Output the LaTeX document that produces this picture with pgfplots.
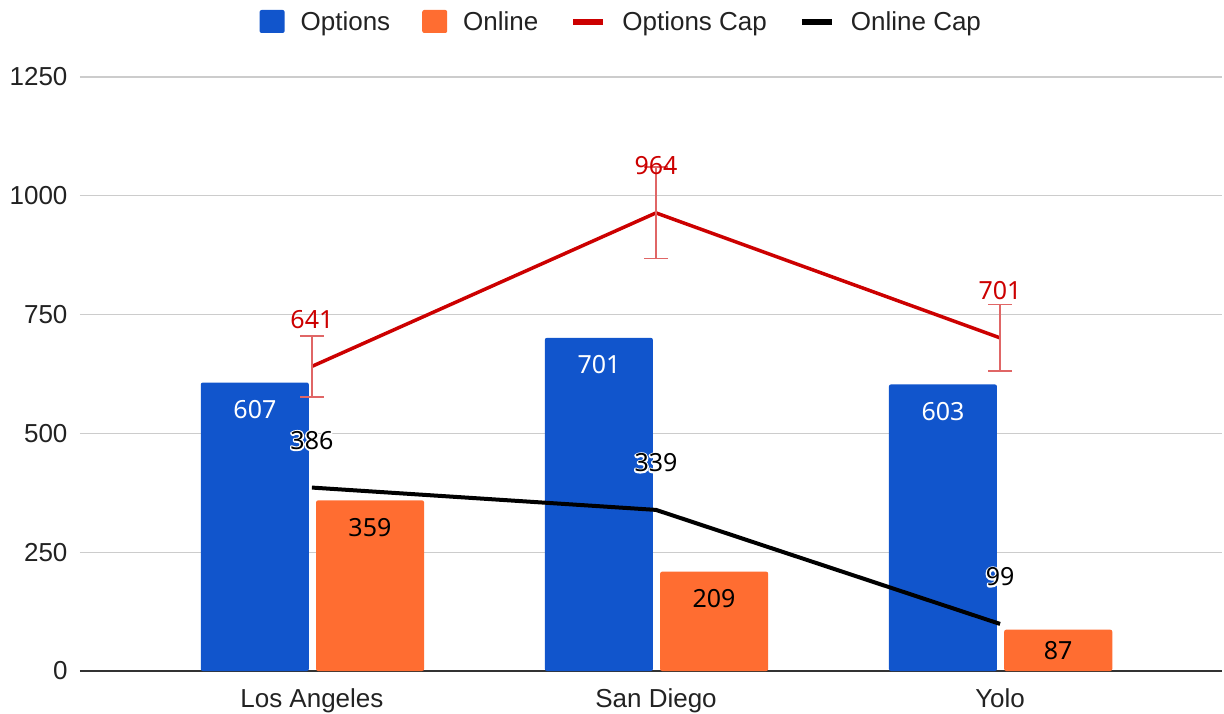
\documentclass[border=0pt]{standalone}
\usepackage{pgfplots}
\pgfplotsset{compat=1.18}
\usepackage{fontspec}
\setmainfont{Liberation Sans}
\newfontfamily\labelfont{Noto Sans}
\newfontfamily\halofont[FakeBold=12]{Noto Sans}
\definecolor{cBlue}{HTML}{1155CC}
\definecolor{cOrange}{HTML}{FF6D31}
\definecolor{cRed}{HTML}{CC0000}
\definecolor{cErr}{HTML}{E06666}
\definecolor{cGrid}{HTML}{CCCCCC}
\definecolor{cAxis}{HTML}{333333}
\definecolor{cText}{HTML}{222222}
\begin{document}
\begin{tikzpicture}[x=1pt,y=1pt]
\path[use as bounding box] (0,0) rectangle (1224,713);
\begin{axis}[
  at={(80pt,42pt)}, anchor=south west,
  scale only axis, width=1142pt, height=594pt,
  xmin=-0.674, xmax=2.645, ymin=0, ymax=1250,
  xtick={0,1,2}, xticklabels={Los Angeles, San Diego, Yolo},
  ytick={0,250,...,1250},
  ymajorgrids, grid style={cGrid, line width=1.3pt},
  axis x line=bottom, axis y line=left,
  x axis line style={-, cAxis, line width=1.8pt},
  y axis line style={draw=none},
  major tick length=0pt,
  tick label style={font=\fontsize{26}{30}\selectfont, text=cText},
  yticklabel style={xshift=-9pt},
  xticklabel style={yshift=-14pt},
  /pgf/number format/assume math mode=true,
  /pgf/number format/1000 sep={},
  legend columns=4,
  legend style={at={(0.474,1.0926)}, anchor=center, draw=none, fill=none,
    font=\fontsize{26}{30}\selectfont, text=cText,
    /tikz/every odd column/.append style={column sep=14pt},
    /tikz/every even column/.append style={column sep=30pt}},
]
\addplot[ybar, bar width=0.314, bar shift=-0.166, fill=cBlue, draw=none,
  rounded corners=2pt,
  nodes near coords,
  every node near coord/.append style={font=\labelfont\fontsize{25}{28}\selectfont, text=white, anchor=center, xshift=-57pt, yshift=-27pt, rounded corners=0pt},
  legend image code/.code={\fill[cBlue] (0pt,-11pt) rectangle (25pt,12pt);}
] coordinates {(0,607) (1,701) (2,603)};
\addlegendentry{Options}
\addplot[ybar, bar width=0.314, bar shift=0.169, fill=cOrange, draw=none,
  rounded corners=2pt,
  visualization depends on={rawy \as \rawy},
  nodes near coords,
  every node near coord/.append style={font=\labelfont\fontsize{25}{28}\selectfont, text=black, anchor=center, xshift=58pt, yshift={max(-27,-0.2376*\rawy)}, rounded corners=0pt},
  legend image code/.code={\fill[cOrange] (0pt,-11pt) rectangle (25pt,12pt);}
] coordinates {(0,359) (1,209) (2,87)};
\addlegendentry{Online}
\addplot[cRed, line width=3.5pt, mark=none, line join=round,
  nodes near coords,
  every node near coord/.append style={font=\labelfont\fontsize{25}{28}\selectfont, text=cRed, anchor=center, yshift=47pt},
  legend image code/.code={\draw[cRed, line width=6pt] (0pt,0pt) -- (30pt,0pt);},
  error bars/.cd, y dir=both, y explicit,
  error bar style={cErr, line width=1.5pt},
  error mark options={cErr, rotate=90, mark size=12pt, line width=1.5pt}
] coordinates {(0,641) +- (0,64.1) (1,964) +- (0,96.4) (2,701) +- (0,70.1)};
\addlegendentry{Options Cap}
\addplot[black, line width=4pt, mark=none, line join=round,
  nodes near coords={\rlap{\halofont\color{white}\pgfmathprintnumber{\pgfplotspointmeta}}\pgfmathprintnumber{\pgfplotspointmeta}},
  every node near coord/.append style={font=\labelfont\fontsize{25}{28}\selectfont, text=black, anchor=center, yshift=47pt},
  legend image code/.code={\draw[black, line width=6pt] (0pt,0pt) -- (30pt,0pt);}
] coordinates {(0,386) (1,339) (2,99)};
\addlegendentry{Online Cap}
\end{axis}
\end{tikzpicture}
\end{document}
